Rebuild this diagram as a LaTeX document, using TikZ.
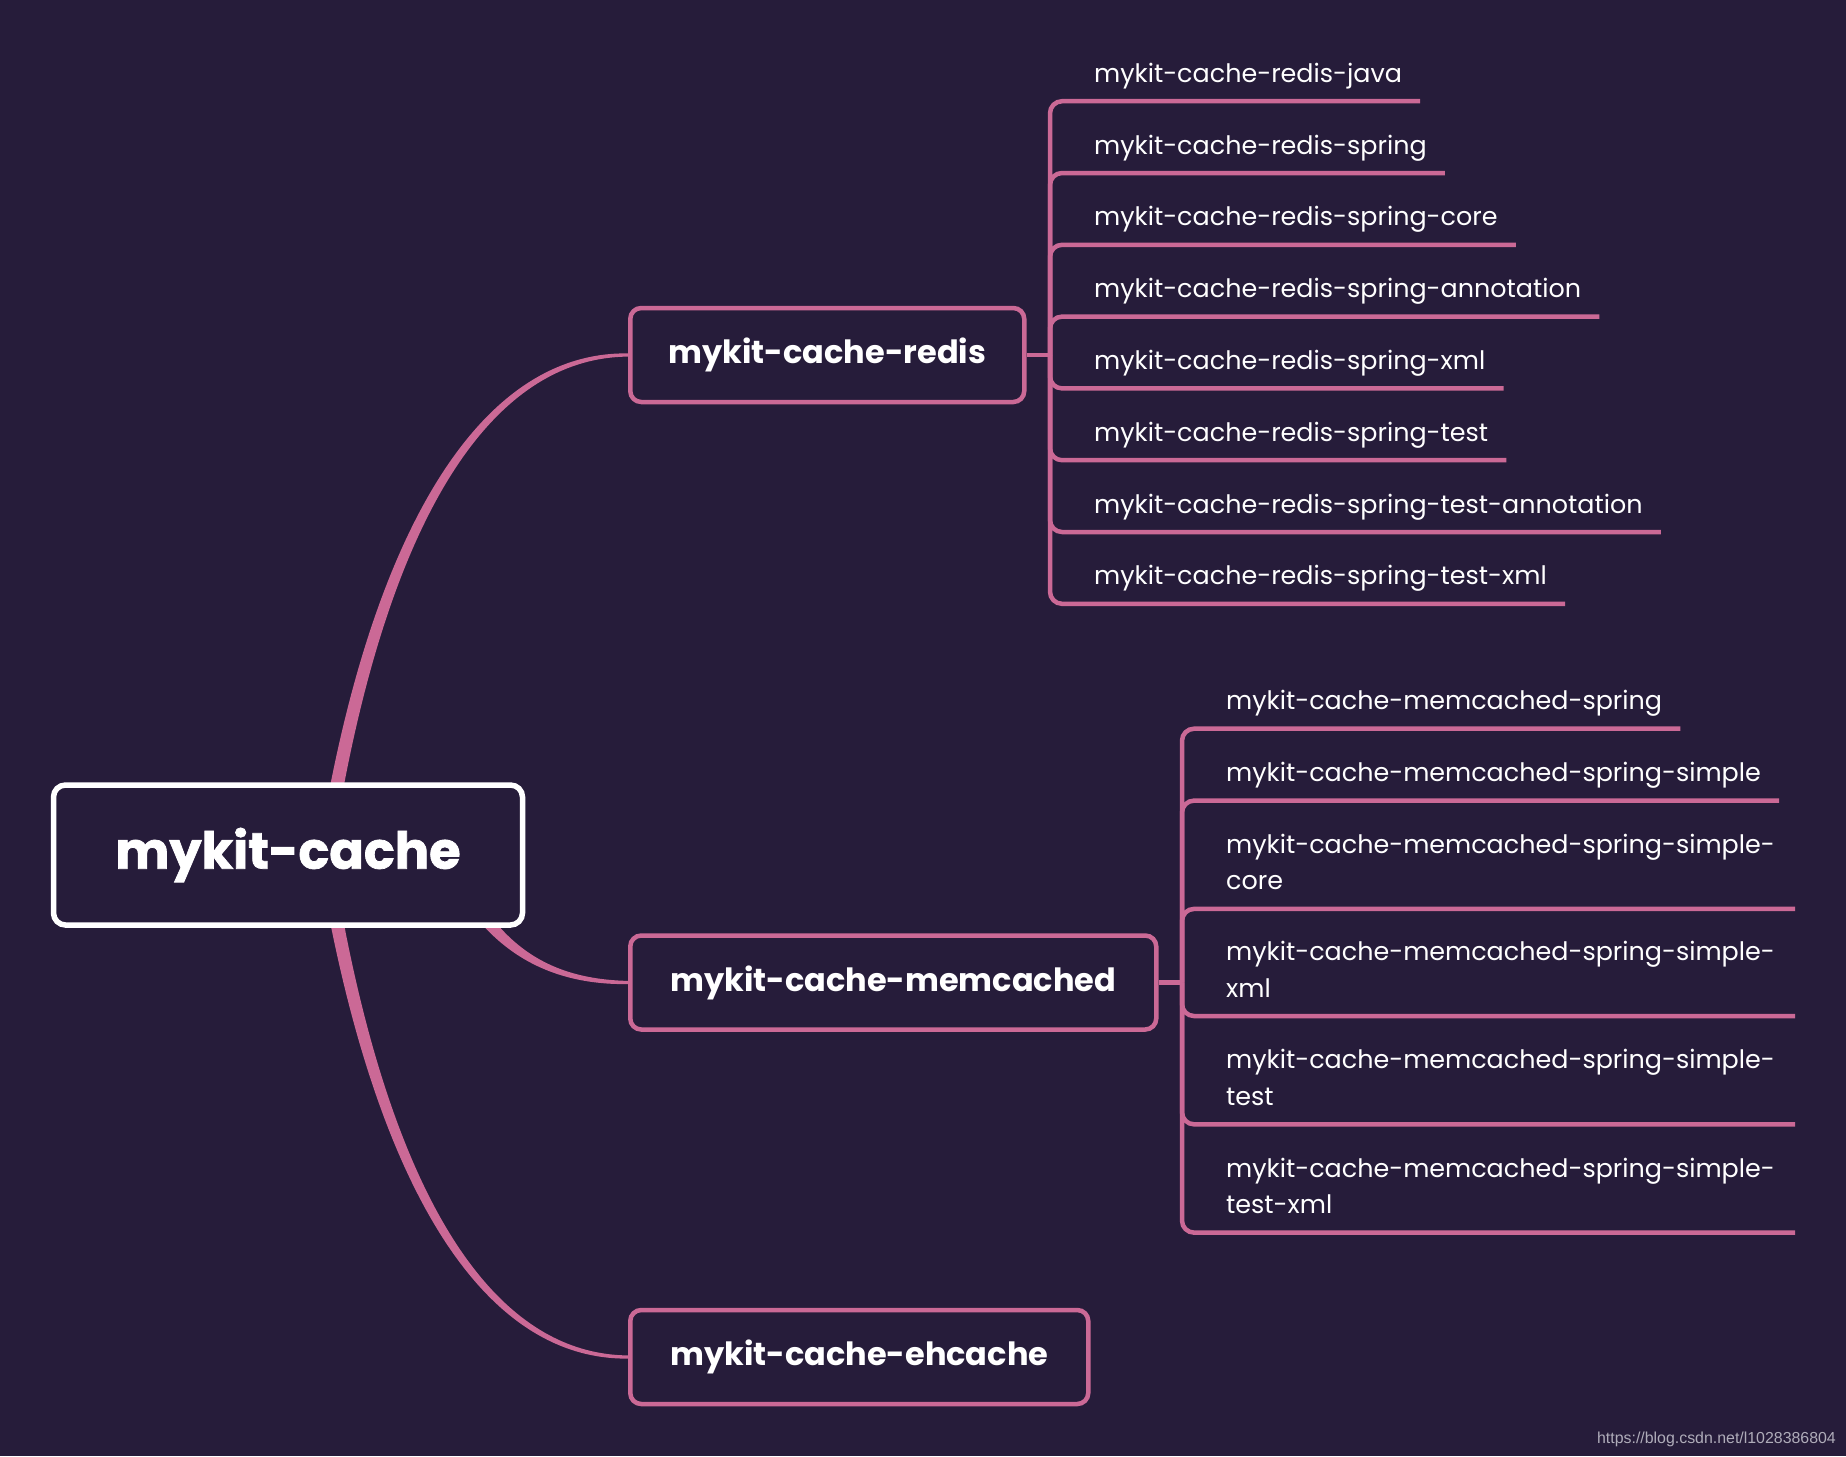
\documentclass[tikz,border=0pt]{standalone}
\usepackage{fontspec}
\setmainfont{Poppins}
\newfontfamily\heavyfont{Poppins}[FakeBold=1.5]
\newfontfamily\markfont{Liberation Sans}
\usepackage{xcolor}
\usetikzlibrary{calc, backgrounds}

\definecolor{bgpurple}{RGB}{38,28,58}
\definecolor{mappink}{RGB}{203,105,150}
\definecolor{markgray}{RGB}{175,172,185}

\begin{document}
\begin{tikzpicture}[x=1pt, y=-1pt,
    rootbox/.style={draw=white, line width=5.5, rounded corners=12, fill=bgpurple, text=white,
        minimum width=469, minimum height=140, font=\heavyfont\fontsize{51}{60}\selectfont\bfseries},
    topicbox/.style={draw=mappink, line width=4.5, rounded corners=11, fill=bgpurple, text=white,
        anchor=west, minimum height=94, font=\fontsize{32}{40}\selectfont\bfseries},
    leaf/.style={anchor=base west, inner sep=0, text=white, align=left,
        font=\fontsize{25.4}{36.5}\selectfont},
    branch/.style={draw=mappink, line width=4.5, rounded corners=12}]
    \useasboundingbox (0,0) rectangle (1846,1456);

    % central topic and main topics
    \node[rootbox] (root) at (288,855) {mykit-cache};
    \node[topicbox, minimum width=394] (redis) at (628,355) {mykit-cache-redis};
    \node[topicbox, minimum width=526] (memcached) at (628,982.5) {mykit-cache-memcached};
    \node[topicbox, minimum width=458] (ehcache) at (628,1357) {mykit-cache-ehcache};

    % tapered curves from the centre
    \begin{scope}[on background layer]
        \fill[bgpurple] (0,0) rectangle (1846,1456);
        \fill[mappink] ($(root.center)+(30,0)$) .. controls (364,560) and (468,351) .. ($(redis.west)+(0,-1.6)$)
            -- ($(redis.west)+(0,1.6)$) .. controls (473,358) and (377,560) .. ($(root.center)+(44,0)$) -- cycle;
        \fill[mappink] ($(root.center)+(155,9)$) .. controls (485,953) and (550,985) .. ($(memcached.west)+(0,1.6)$)
            -- ($(memcached.west)+(0,-1.6)$) .. controls (550,979) and (495,947) .. ($(root.center)+(169,1)$) -- cycle;
        \fill[mappink] ($(root.center)+(30,0)$) .. controls (366,1150) and (467,1360) .. ($(ehcache.west)+(0,1.6)$)
            -- ($(ehcache.west)+(0,-1.6)$) .. controls (473,1354) and (378,1150) .. ($(root.center)+(44,0)$) -- cycle;
    \end{scope}

    % redis modules
    \coordinate (rj) at (1050,355);
    \draw[branch] (redis.east) -- (rj);
    \foreach \txt [count=\i] in {java, spring, spring-core, spring-annotation, spring-xml,
        spring-test, spring-test-annotation, spring-test-xml} {
        \node[leaf] (r\i) at (1094, {10.4+71.8*\i}) {mykit-cache-redis-\txt};
        \draw[branch] (rj) |- ($(r\i.base east)+(18,19)$);
    }

    % memcached modules
    \coordinate (mj) at (1182,982.5);
    \draw[branch] (memcached.east) -- (mj);
    \foreach \txt/\yu [count=\i] in {spring/728.7, spring-simple/800.6} {
        \node[leaf] (m\i) at (1226, {\yu-19}) {mykit-cache-memcached-\txt};
        \draw[branch] (mj) |- ($(m\i.base east)+(18,19)$);
    }
    \foreach \txt/\yu [count=\i from 3] in {core/908.9, xml/1016, test/1124.3, test-xml/1232.6} {
        \node[leaf] (m\i) at (1226, {\yu-19}) {mykit-cache-memcached-spring-simple-\\\txt};
        \draw[branch] (mj) |- ($(m\i.base west)+(569,19)$);
    }

    \node[anchor=base east, inner sep=0, text=markgray, font=\markfont\fontsize{15.9}{18}\selectfont]
        (mark) at (1836,1443) {https://blog.csdn.net/l1028386804};
\end{tikzpicture}
\end{document}
